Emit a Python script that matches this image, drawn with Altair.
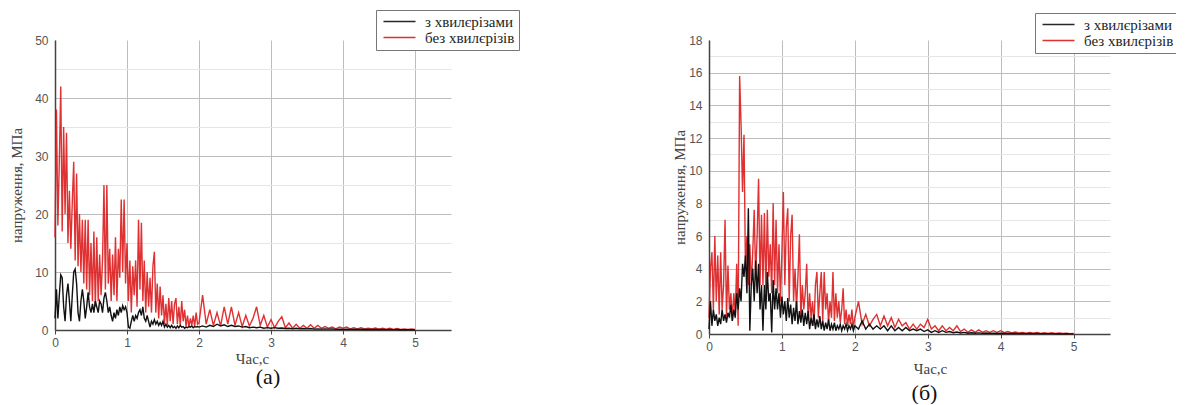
import altair as alt
import pandas as pd

SERIES = ["з хвилєрізами", "без хвилєрізів"]
COLORS = ["#111111", "#dc1a1c"]

# ---- panel (а): values every 0.02 s for 0..1.98 s, then every 0.05 s for 2..5 s
A_RED_FINE = [16, 38, 18, 29, 42, 17, 35, 20, 34, 15,
              24, 14, 22, 29, 12, 27, 11, 20, 10, 19,
              8, 19, 7, 19, 6, 15, 5, 17, 4, 16,
              5, 13, 6, 12, 25, 7, 25, 8, 14, 5,
              13, 6, 16, 5, 14, 9, 22.5, 10, 22.5, 8,
              15, 5, 12, 3, 11, 6, 12, 4, 19, 7,
              18.5, 5, 12, 3, 10, 4, 9, 3, 11, 13.5,
              3, 8, 2, 7.5, 2.5, 6, 1, 4.5, 0.8, 5.5,
              1.5, 5, 1, 4.5, 5.5, 1, 4, 0.8, 5, 1.5,
              3.5, 0.6, 2.5, 0.5, 2, 0.8, 2.5, 0.6, 3, 1]
A_RED_COARSE = [1.2, 6, 1, 3.5, 0.8, 3, 0.7, 4, 1, 4,
                0.8, 3, 0.6, 2.5, 0.7, 2, 4, 0.8, 2.5, 0.5,
                1.8, 0.4, 1.5, 2.3, 0.4, 1.2, 0.3, 1, 0.3, 0.8,
                0.3, 0.9, 0.3, 0.8, 0.3, 0.6, 0.3, 0.5, 0.2, 0.5,
                0.3, 0.5, 0.2, 0.4, 0.2, 0.4, 0.2, 0.3, 0.2, 0.35,
                0.15, 0.3, 0.15, 0.3, 0.1, 0.25, 0.1, 0.2, 0.1, 0.2, 0.1]
A_BLK_FINE = [2, 7, 2, 6, 9.5, 9, 4, 1.5, 6, 8,
              5, 1.5, 6, 10, 10.5, 8, 3, 1.5, 5, 7,
              5, 2, 4, 6.5, 4, 3, 4.5, 3, 5, 4,
              3, 5, 4.5, 3, 5.5, 6.5, 5, 3, 4, 2.5,
              1.5, 3, 2, 3.5, 2.5, 4, 3, 4.2, 3.5, 4,
              3, 0.5, 0.3, 1.5, 2.5, 1.5, 2.5, 2, 3, 3.5,
              2.5, 4, 2, 1.5, 2.5, 1.5, 0.5, 1.5, 1, 1.8,
              1, 1.5, 0.8, 1.3, 0.8, 1.5, 0.5, 1, 0.5, 0.8,
              0.4, 0.8, 0.4, 0.6, 0.3, 0.7, 0.4, 0.8, 0.5, 0.6,
              0.3, 0.5, 0.4, 0.6, 0.5, 0.7, 0.4, 0.6, 0.5, 0.6]
A_BLK_COARSE = [0.5, 0.7, 0.5, 0.8, 0.6, 1.0, 0.7, 0.9, 0.6, 0.8,
                0.6, 0.7, 0.5, 0.6, 0.4, 0.5, 0.4, 0.5, 0.3, 0.4,
                0.3, 0.4, 0.3, 0.35, 0.25, 0.3, 0.2, 0.3, 0.2, 0.25,
                0.2, 0.25, 0.15, 0.2, 0.15, 0.2, 0.15, 0.2, 0.1, 0.15,
                0.1, 0.15, 0.1, 0.12, 0.1, 0.12, 0.08, 0.1, 0.08, 0.1,
                0.08, 0.1, 0.06, 0.08, 0.06, 0.08, 0.05, 0.07, 0.05, 0.06, 0.05]

# ---- panel (б)
B_RED_FINE = [1, 4, 5, 1.5, 6, 2, 4.8, 1.2, 5, 1.5,
              3, 7, 1, 4.2, 1.5, 2.5, 0.8, 2.5, 1.2, 4.3,
              0.5, 15.8, 12.8, 8.7, 12.2, 4, 6, 3, 5.5, 3,
              5, 7.6, 3.5, 6, 9.5, 3, 7.3, 3, 7.4, 2.5,
              7.6, 3.5, 5.5, 2.5, 8, 3, 7, 2.5, 5.5, 2,
              5, 8.7, 3, 6.5, 7.7, 2, 6, 7.3, 2, 4,
              1.5, 3.5, 6.1, 1, 3, 1.5, 2.5, 4.3, 0.8, 2.5,
              1, 2, 0.5, 3, 3.8, 1, 2.5, 3.8, 0.8, 3.8,
              1.5, 2.5, 0.7, 2, 1, 3.8, 0.8, 2.5, 1, 2,
              0.7, 1.5, 2.8, 0.6, 1.5, 0.5, 1.2, 0.6, 1.5, 0.4]
B_RED_COARSE = [1, 2, 0.6, 1.2, 0.5, 0.9, 1.2, 0.5, 1.1, 0.5,
                1, 0.4, 0.9, 0.5, 0.7, 0.3, 0.6, 0.3, 0.6, 0.4,
                0.9, 0.3, 0.5, 0.2, 0.5, 0.2, 0.4, 0.2, 0.5, 0.15,
                0.3, 0.1, 0.25, 0.1, 0.25, 0.1, 0.2, 0.1, 0.2, 0.1,
                0.2, 0.08, 0.15, 0.06, 0.12, 0.06, 0.1, 0.05, 0.1, 0.05,
                0.1, 0.04, 0.08, 0.04, 0.08, 0.03, 0.06, 0.03, 0.05, 0.02, 0.03]
B_BLK_FINE = [0.3, 2, 0.5, 1.5, 0.8, 1.2, 0.5, 1, 0.6, 1.5,
              0.8, 1.2, 0.7, 1.3, 1, 1.8, 0.8, 1.5, 1, 2.5,
              1.5, 2.8, 2, 4.3, 3.5, 4.8, 2.5, 7.7, 0.2, 3,
              4, 2, 4.5, 2.5, 4.3, 1.5, 3, 0.2, 3, 1.5,
              3.8, 2, 2.5, 0.1, 3.3, 1.5, 2.8, 1.5, 2.5, 1,
              2.3, 1.2, 2, 0.8, 2.2, 1, 1.8, 0.6, 1.6, 0.8,
              2, 0.6, 1.4, 0.7, 1.5, 0.5, 1.3, 0.6, 1.4, 0.3,
              1, 0.5, 1.2, 0.3, 0.9, 0.4, 1.1, 0.3, 0.8, 0.2,
              0.7, 0.3, 0.9, 0.2, 0.6, 0.3, 0.7, 0.2, 0.5, 0.3,
              0.6, 0.2, 0.5, 0.3, 0.6, 0.2, 0.5, 0.3, 0.6, 0.2]
B_BLK_COARSE = [0.5, 0.3, 0.8, 0.3, 0.6, 0.3, 0.5, 0.3, 0.5, 0.2,
                0.5, 0.2, 0.4, 0.2, 0.4, 0.2, 0.3, 0.2, 0.3, 0.15,
                0.25, 0.1, 0.2, 0.1, 0.2, 0.1, 0.15, 0.08, 0.12, 0.06,
                0.1, 0.05, 0.08, 0.05, 0.07, 0.04, 0.06, 0.04, 0.05, 0.03,
                0.05, 0.03, 0.04, 0.03, 0.04, 0.02, 0.03, 0.02, 0.03, 0.02,
                0.03, 0.02, 0.02, 0.02, 0.02, 0.01, 0.02, 0.01, 0.02, 0.01, 0.01]

X_TICKS = [0, 0.5, 1, 1.5, 2, 2.5, 3, 3.5, 4, 4.5, 5]
A_Y_TICKS = [0, 5, 10, 15, 20, 25, 30, 35, 40, 45, 50]
B_Y_TICKS = [0, 1, 2, 3, 4, 5, 6, 7, 8, 9, 10, 11, 12, 13, 14, 15, 16, 17, 18]

Y_TITLE = "напруження, МПа"
X_TITLE = "Час,с"
SERIF = "Liberation Serif"


def frame(fine, coarse, name):
    t = [round(i * 0.02, 2) for i in range(len(fine))] + \
        [round(2 + i * 0.05, 2) for i in range(len(coarse))]
    return pd.DataFrame({"t": t, "v": list(fine) + list(coarse), "s": name})


def panel(red, blk, yticks, ymax, major, width, height, lx, ly,
          label, xt_pad, xt_x, t_off, yt_pad):
    x = alt.X("t:Q", scale=alt.Scale(domain=[0, 5.5], nice=False, zero=False),
              axis=alt.Axis(values=X_TICKS, title=X_TITLE, format="d",
                            labelExpr="datum.value % 1 === 0 ? datum.label : ''",
                            labelFlush=False, labelOverlap=False,
                            gridColor={"condition": {"test": "datum.value % 1 === 0", "value": "#bdbdbd"},
                                       "value": "#e6e6e6"},
                            tickOpacity={"condition": {"test": "datum.value % 1 === 0", "value": 1},
                                         "value": 0},
                            titlePadding=xt_pad, titleX=xt_x))
    y = alt.Y("v:Q", scale=alt.Scale(domain=[0, ymax], nice=False),
              axis=alt.Axis(values=yticks, title=Y_TITLE, format="d",
                            labelExpr=f"datum.value % {major} === 0 ? datum.label : ''",
                            labelOverlap=False, labelFlush=False,
                            gridColor={"condition": {"test": f"datum.value % {major} === 0", "value": "#bdbdbd"},
                                       "value": "#e6e6e6"},
                            gridOpacity={"condition": {"test": f"datum.value === {ymax}", "value": 0},
                                         "value": 1},
                            tickOpacity=0, titlePadding=yt_pad))
    color = alt.Color("s:N", scale=alt.Scale(domain=SERIES, range=COLORS),
                      legend=alt.Legend(orient="none", legendX=lx, legendY=ly, title=None,
                                        symbolType="M-1,0H7", symbolSize=64,
                                        symbolStrokeWidth=1.5,
                                        labelFont=SERIF, labelFontSize=15,
                                        labelColor="#222", labelOffset=30,
                                        strokeColor="#777", fillColor="white",
                                        padding=4, rowPadding=-2, cornerRadius=0))
    r = alt.Chart(red).mark_line(strokeWidth=1.4, opacity=0.9).encode(x=x, y=y, color=color)
    b = alt.Chart(blk).mark_line(strokeWidth=1.4).encode(x=x, y=y, color=color)
    return alt.layer(r, b).properties(
        width=width, height=height,
        title=alt.Title(label, orient="bottom", frame="group", anchor="middle", dx=15,
                        offset=t_off, font=SERIF, fontSize=22,
                        fontWeight="normal", color="#111"))


left = panel(frame(A_RED_FINE, A_RED_COARSE, SERIES[1]),
             frame(A_BLK_FINE, A_BLK_COARSE, SERIES[0]),
             A_Y_TICKS, 50, 10, 396, 290, 321, -30, "(а)", 3, 197, 1, 10)
right = panel(frame(B_RED_FINE, B_RED_COARSE, SERIES[1]),
              frame(B_BLK_FINE, B_BLK_COARSE, SERIES[0]),
              B_Y_TICKS, 18, 2, 401, 294, 326, -27, "(б)", 9, 221, 7, 1)

chart = alt.hconcat(left, right, spacing=258, bounds="flush").resolve_scale(
    color="independent"
).resolve_legend(color="independent").properties(
    padding={"left": 1, "top": 1, "right": -3, "bottom": 0}
).configure_view(stroke=None).configure_axis(
    labelFont="Liberation Sans", labelFontSize=12, labelColor="#555", labelPadding=3,
    titleFont=SERIF, titleFontSize=15, titleFontWeight="normal", titleColor="#444",
    domainColor="#444", domainWidth=1.5, tickColor="#444", tickSize=4, gridWidth=1
).configure_legend(labelFont=SERIF, labelFontSize=15)

chart.save("out.html", embed_options={"renderer": "svg", "actions": False})
